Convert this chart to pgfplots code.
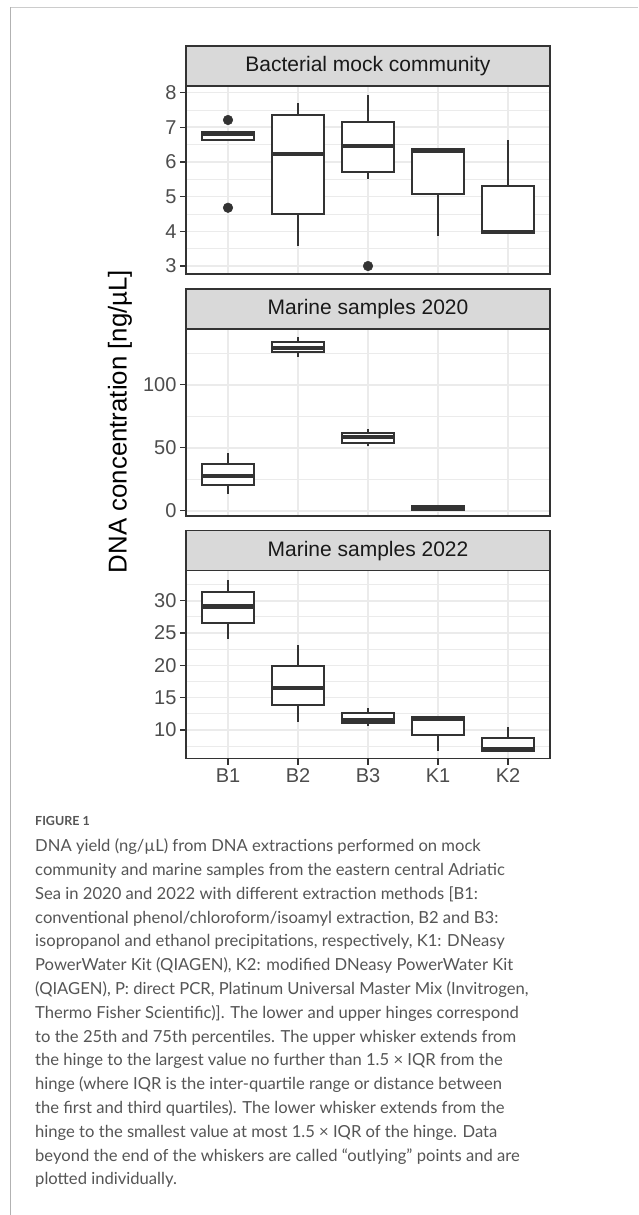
\documentclass[border=0pt]{standalone}
\usepackage{fontspec}
\setmainfont{Liberation Sans}
\newfontfamily\capfont{Lato}
\usepackage{pgfplots}
\pgfplotsset{compat=1.18}
\usepgfplotslibrary{statistics}

\definecolor{ink}{HTML}{333333}
\definecolor{ticktext}{HTML}{4D4D4D}
\definecolor{gridc}{HTML}{EBEBEB}
\definecolor{stripbg}{HTML}{D9D9D9}
\definecolor{captext}{HTML}{555555}
\definecolor{framec}{HTML}{CCCCCC}

\pgfplotsset{
  facet/.style={
    scale only axis, width=364pt, height=188pt,
    xmin=0.4, xmax=5.6,
    xtick={1,2,3,4,5},
    grid=both,
    major grid style={draw=gridc, line width=1.6pt},
    minor grid style={draw=gridc, line width=0.8pt},
    axis line style={draw=ink, line width=1.2pt},
    tick align=outside, tick pos=left,
    major tick length=6pt, minor tick length=0pt,
    every tick/.style={draw=ink, line width=1.2pt},
    yticklabel style={font=\fontsize{20}{20}\selectfont, text=ticktext},
    xticklabel style={font=\fontsize{20}{20}\selectfont, text=ticktext},
    /pgf/number format/assume math mode=true,
    boxplot/draw direction=y,
    boxplot/box extend=0.75,
    boxplot/whisker extend=0,
    boxplot/every box/.style={draw=ink, line width=2pt, fill=white},
    boxplot/every whisker/.style={draw=ink, line width=2pt},
    boxplot/every median/.style={draw=ink, line width=4.2pt},
  },
  hidex/.style={xticklabels={}, xtick style={draw=none}},
  dots/.style={draw=ink, line width=2pt, mark=*, mark size=4.8pt, mark options={fill=ink, draw=ink, line width=0.5pt}},
}

\newcommand{\strip}[2]{%
  \draw[fill=stripbg, draw=ink, line width=1.2pt] ([yshift=40pt]#1.north west) rectangle (#1.north east);
  \node[font=\fontsize{21}{21}\selectfont, text=black!90] at ([yshift=20pt]#1.north) {#2};}
\newcommand{\capline}[2]{%
  \node[anchor=base west, inner sep=0pt, font=\capfont\fontsize{16.6}{20}\selectfont, text=captext] at (35,-#1) {#2};}

\begin{document}
\begin{tikzpicture}[x=1pt, y=1pt]
\useasboundingbox (0,0) rectangle (638,-1215);
\fill[white] (0,0) rectangle (638,-1215);
\draw[framec, line width=1.6pt] (10,-7.5) -- (638,-7.5);
\draw[black!30, line width=0.9pt] (10.7,-7.5) -- (10.7,-1215);

% Bacterial mock community
\begin{axis}[facet, hidex, name=p1, at={(186pt,-274pt)}, anchor=south west,
  ymin=2.77, ymax=8.19, ytick={3,4,5,6,7,8}, minor ytick={3.5,4.5,5.5,6.5,7.5}]
\addplot[dots, boxplot prepared={draw position=1, lower whisker=6.64, lower quartile=6.64,
  median=6.80, upper quartile=6.875, upper whisker=6.875}] coordinates {(1,7.21) (1,4.68)};
\addplot[dots, boxplot prepared={draw position=2, lower whisker=3.58, lower quartile=4.49,
  median=6.22, upper quartile=7.36, upper whisker=7.69}] coordinates {};
\addplot[dots, boxplot prepared={draw position=3, lower whisker=5.51, lower quartile=5.70,
  median=6.46, upper quartile=7.15, upper whisker=7.93}] coordinates {(3,3.0)};
\addplot[dots, boxplot prepared={draw position=4, lower whisker=3.87, lower quartile=5.08,
  median=6.32, upper quartile=6.36, upper whisker=6.38}] coordinates {};
\addplot[dots, boxplot prepared={draw position=5, lower whisker=3.94, lower quartile=3.94,
  median=3.98, upper quartile=5.31, upper whisker=6.64}] coordinates {};
\end{axis}
\strip{p1}{Bacterial mock community}

% Marine samples 2020
\begin{axis}[facet, hidex, name=p2, at={(186pt,-516pt)}, anchor=south west, height=187pt,
  ymin=-4.2, ymax=144.2, ytick={0,50,100}, minor ytick={25,75,125}]
\addplot[dots, boxplot prepared={draw position=1, lower whisker=13.5, lower quartile=20.2,
  median=27.8, upper quartile=37.3, upper whisker=45.5}] coordinates {};
\addplot[dots, boxplot prepared={draw position=2, lower whisker=121.7, lower quartile=125.7,
  median=129.4, upper quartile=134.1, upper whisker=137.6}] coordinates {};
\addplot[dots, boxplot prepared={draw position=3, lower whisker=51.6, lower quartile=54.0,
  median=58.2, upper quartile=61.9, upper whisker=64.8}] coordinates {};
\addplot[dots, boxplot prepared={draw position=4, lower whisker=0.3, lower quartile=0.6,
  median=2.0, upper quartile=3.6, upper whisker=4.5}] coordinates {};
\end{axis}
\strip{p2}{Marine samples 2020}

% Marine samples 2022
\begin{axis}[facet, name=p3, at={(186pt,-758.7pt)}, anchor=south west,
  ymin=5.56, ymax=34.64, ytick={10,15,20,25,30}, minor ytick={7.5,12.5,17.5,22.5,27.5,32.5},
  xticklabels={B1,B2,B3,K1,K2}]
\addplot[dots, boxplot prepared={draw position=1, lower whisker=24.1, lower quartile=26.5,
  median=29.1, upper quartile=31.3, upper whisker=33.2}] coordinates {};
\addplot[dots, boxplot prepared={draw position=2, lower whisker=11.24, lower quartile=13.8,
  median=16.55, upper quartile=19.85, upper whisker=23.1}] coordinates {};
\addplot[dots, boxplot prepared={draw position=3, lower whisker=10.67, lower quartile=11.1,
  median=11.55, upper quartile=12.6, upper whisker=13.45}] coordinates {};
\addplot[dots, boxplot prepared={draw position=4, lower whisker=6.8, lower quartile=9.24,
  median=11.75, upper quartile=11.97, upper whisker=11.97}] coordinates {};
\addplot[dots, boxplot prepared={draw position=5, lower whisker=6.76, lower quartile=6.76,
  median=7.0, upper quartile=8.82, upper whisker=10.52}] coordinates {};
\end{axis}
\strip{p3}{Marine samples 2022}

\node[rotate=90, font=\fontsize{25.8}{26}\selectfont] at (120,-421.5) {DNA concentration [ng/µL]};

\node[anchor=base west, inner sep=0pt, font=\capfont\bfseries\fontsize{12.5}{15}\selectfont, text=captext] at (35,-825) {FIGURE 1};
\capline{851.7}{DNA yield (ng/µL) from DNA extractions performed on mock}
\capline{875.5}{community and marine samples from the eastern central Adriatic}
\capline{899.3}{Sea in 2020 and 2022 with different extraction methods [B1:}
\capline{923.1}{conventional phenol/chloroform/isoamyl extraction, B2 and B3:}
\capline{946.9}{isopropanol and ethanol precipitations, respectively, K1: DNeasy}
\capline{970.7}{PowerWater Kit (QIAGEN), K2: modified DNeasy PowerWater Kit}
\capline{994.5}{(QIAGEN), P: direct PCR, Platinum Universal Master Mix (Invitrogen,}
\capline{1018.3}{Thermo Fisher Scientific)]. The lower and upper hinges correspond}
\capline{1042.1}{to the 25th and 75th percentiles. The upper whisker extends from}
\capline{1065.9}{the hinge to the largest value no further than 1.5 × IQR from the}
\capline{1089.7}{hinge (where IQR is the inter-quartile range or distance between}
\capline{1113.5}{the first and third quartiles). The lower whisker extends from the}
\capline{1137.3}{hinge to the smallest value at most 1.5 × IQR of the hinge. Data}
\capline{1161.1}{beyond the end of the whiskers are called “outlying” points and are}
\capline{1184.9}{plotted individually.}
\end{tikzpicture}
\end{document}
